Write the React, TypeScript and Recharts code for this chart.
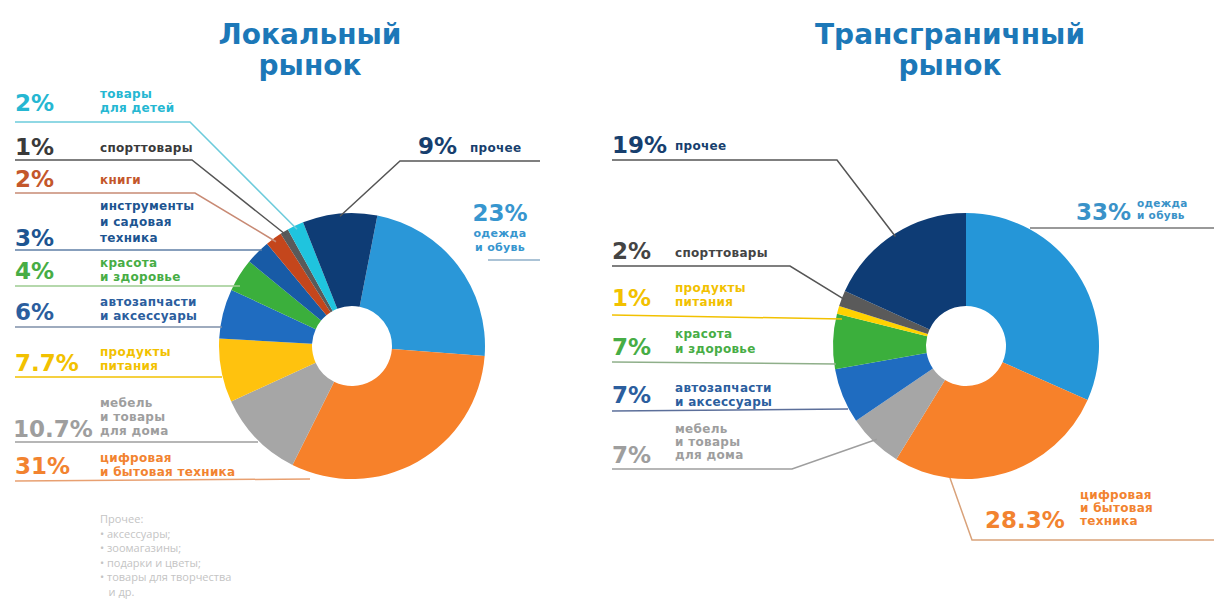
import { PieChart, Pie, Cell } from 'recharts'

// data
const localNames = ['одежда\nи обувь', 'цифровая\nи бытовая техника', 'мебель\nи товары\nдля дома', 'продукты\nпитания', 'автозапчасти\nи аксессуары', 'красота\nи здоровье', 'инструменты\nи садовая\nтехника', 'книги', 'спорттовары', 'товары\nдля детей', 'прочее']
const localValues = [23, 31, 10.7, 7.7, 6, 4, 3, 2, 1, 2, 9]

const crossNames = ['одежда\nи обувь', 'цифровая\nи бытовая\nтехника', 'мебель\nи товары\nдля дома', 'автозапчасти\nи аксессуары', 'красота\nи здоровье', 'продукты\nпитания', 'спорттовары', 'прочее']
const crossValues = [33, 28.3, 7, 7, 7, 1, 2, 19]

const titles = ['Локальный\nрынок', 'Трансграничный\nрынок']
const footnote = ['Прочее:', '• аксессуары;', '• зоомагазины;', '• подарки и цветы;', '• товары для творчества', '   и др.']

// styles
const localColors = ['#2A97D8', '#F7812A', '#A6A6A6', '#FFC20E', '#1F6CC0', '#3BAF3C', '#185BA6', '#C4461C', '#5A5A5A', '#1FC4DE', '#0E3C75']
const crossColors = ['#2596D8', '#F7812A', '#A6A6A6', '#1F6CC0', '#3BAF3C', '#FFD200', '#5A5A5A', '#0E3C75']

type Anchor = 'start' | 'middle' | 'end'
type LabelLayout = {
  pct: [number, number, Anchor?]
  text: [number, number, Anchor?]
  lh?: number
  size?: number
  line: number[][]
  anchor?: number
  color: string
  lineColor?: string
}

const localLayout: LabelLayout[] = [
  { pct: [500, 221, 'middle'], text: [500, 237, 'middle'], lh: 14, size: 11, line: [[540, 260], [488, 260]], color: '#3796CF', lineColor: '#8FAFC8' },
  { pct: [15, 474], text: [100, 462], line: [[15, 481], [310, 479]], color: '#F28330', lineColor: '#E8A071' },
  { pct: [13, 437], text: [100, 407], line: [[15, 442], [258, 442]], color: '#9E9E9E' },
  { pct: [15, 371], text: [100, 356], line: [[15, 377], [222, 377]], color: '#F2C100' },
  { pct: [15, 320], text: [100, 306], line: [[15, 327], [222, 327]], color: '#2B5E9E', lineColor: '#7E8FA8' },
  { pct: [15, 279], text: [100, 267], line: [[15, 286], [240, 286]], color: '#47AD45', lineColor: '#9CCB90' },
  { pct: [15, 246], text: [100, 210], lh: 16, line: [[15, 250], [262, 250]], color: '#1D5591', lineColor: '#5F7FA6' },
  { pct: [15, 187], text: [100, 184], line: [[15, 193], [195, 193]], anchor: 0.97, color: '#C4572B', lineColor: '#C88A74' },
  { pct: [15, 155], text: [100, 152], line: [[15, 160], [192, 160]], anchor: 0.97, color: '#3A3A3A', lineColor: '#555555' },
  { pct: [15, 111], text: [100, 98], line: [[15, 122], [190, 122]], anchor: 0.97, color: '#25B7D2', lineColor: '#6CCBDB' },
  { pct: [418, 154], text: [470, 152], line: [[540, 161], [400, 161]], anchor: 0.98, color: '#173F6E', lineColor: '#555555' },
]

const crossLayout: LabelLayout[] = [
  { pct: [1131, 220, 'end'], text: [1137, 207], lh: 12, size: 10.5, line: [[1214, 228], [1030, 228]], color: '#3A92C8', lineColor: '#777777' },
  { pct: [985, 528], text: [1080, 499], lh: 13, line: [[1214, 540], [972, 540], [950, 478]], color: '#F28330', lineColor: '#D9A27A' },
  { pct: [612, 463], text: [675, 433], lh: 13, line: [[612, 469], [792, 469]], anchor: 0.97, color: '#9E9E9E' },
  { pct: [612, 403], text: [675, 392], lh: 14, line: [[612, 411], [848, 409]], color: '#2B5E9E', lineColor: '#5C6F9A' },
  { pct: [612, 355], text: [675, 338], lh: 15, line: [[612, 362], [836, 364]], color: '#47AD45', lineColor: '#8FAF8A' },
  { pct: [612, 306], text: [675, 292], lh: 14, line: [[612, 315], [842, 319]], color: '#F2C100' },
  { pct: [612, 259], text: [675, 257], line: [[612, 266], [790, 266]], anchor: 0.98, color: '#444444', lineColor: '#555555' },
  { pct: [612, 153], text: [675, 150], line: [[612, 160], [837, 160]], anchor: 0.98, color: '#173F6E', lineColor: '#555555' },
]

const RAD = Math.PI / 180
const PCT_FONT = '"DejaVu Sans", sans-serif'

function makeLabel(names: string[], values: number[], layout: LabelLayout[]) {
  return (props: any) => {
    const { cx, cy, midAngle, outerRadius, index } = props
    const L = layout[index]
    const pts = L.line.map(p => [p[0], p[1]])
    if (L.anchor) {
      const r = outerRadius * L.anchor
      pts.push([cx + r * Math.cos(-midAngle * RAD), cy + r * Math.sin(-midAngle * RAD)])
    }
    const lines = names[index].split('\n')
    const lh = L.lh ?? 14
    return (
      <g key={`lbl-${index}`}>
        <polyline points={pts.map(p => p.join(',')).join(' ')} fill="none" stroke={L.lineColor ?? L.color} strokeWidth={1.5} />
        <text x={L.pct[0]} y={L.pct[1]} textAnchor={L.pct[2] ?? 'start'} fill={L.color}
          style={{ fontFamily: PCT_FONT, fontSize: 23, fontWeight: 700 }}>
          {`${values[index]}%`}
        </text>
        {lines.map((t, i) => (
          <text key={i} x={L.text[0]} y={L.text[1] + i * lh} textAnchor={L.text[2] ?? 'start'} fill={L.color}
            style={{ fontFamily: PCT_FONT, fontSize: L.size ?? 12, fontWeight: 700, letterSpacing: 0.3 }}>
            {t}
          </text>
        ))}
      </g>
    )
  }
}

const localData = localNames.map((n, i) => ({ name: n, value: localValues[i] }))
const crossData = crossNames.map((n, i) => ({ name: n, value: crossValues[i] }))

export default function App() {
  return (
    <div style={{ position: 'absolute', left: 0, top: 0, width: 1214, height: 605, background: '#fff', overflow: 'hidden' }}>
      <PieChart width={1214} height={605} margin={{ top: 0, right: 0, bottom: 0, left: 0 }}>
        <Pie data={localData} dataKey="value" nameKey="name" cx={352} cy={346} outerRadius={133} innerRadius={40}
          startAngle={79} endAngle={-281} stroke="none" isAnimationActive={false}
          label={makeLabel(localNames, localValues, localLayout)} labelLine={false}>
          {localData.map((_, i) => <Cell key={i} fill={localColors[i]} />)}
        </Pie>
        <Pie data={crossData} dataKey="value" nameKey="name" cx={966} cy={346} outerRadius={133} innerRadius={40}
          startAngle={90} endAngle={-270} stroke="none" isAnimationActive={false}
          label={makeLabel(crossNames, crossValues, crossLayout)} labelLine={false}>
          {crossData.map((_, i) => <Cell key={i} fill={crossColors[i]} />)}
        </Pie>
        {titles.map((t, k) => t.split('\n').map((s, i) => (
          <text key={`${k}-${i}`} x={k === 0 ? 310 : 950} y={44 + i * 31} textAnchor="middle" fill="#1C78B8"
            style={{ fontFamily: PCT_FONT, fontSize: 28, fontWeight: 700 }}>
            {s}
          </text>
        )))}
        {footnote.map((s, i) => (
          <text key={i} x={100} y={523 + i * 14.5} fill="#C4C4C4"
            style={{ fontFamily: '"Open Sans", sans-serif', fontSize: 11, whiteSpace: 'pre' }}>
            {s}
          </text>
        ))}
      </PieChart>
    </div>
  )
}
